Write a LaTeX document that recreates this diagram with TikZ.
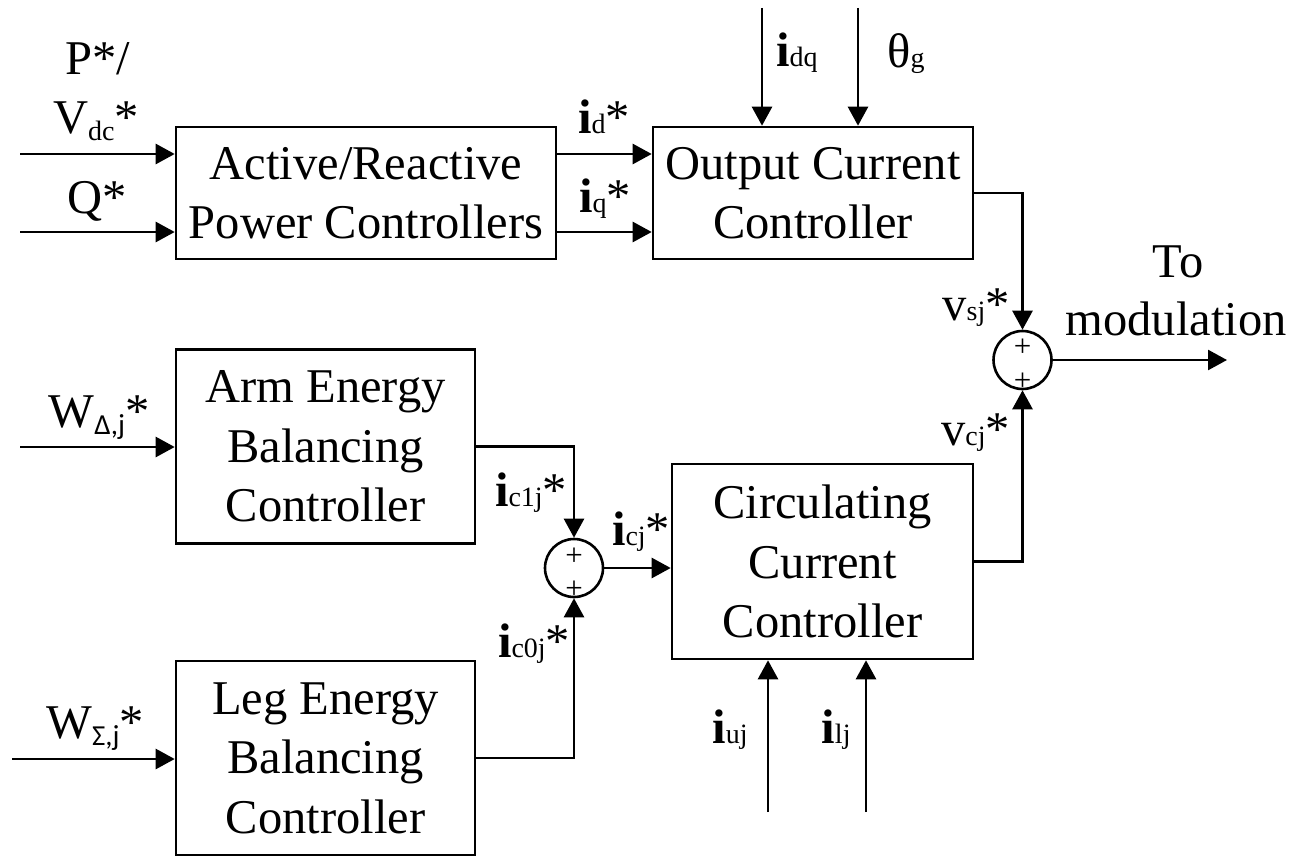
\documentclass[tikz,border=0pt]{standalone}
\usepackage{fontspec}
\setmainfont{Liberation Serif}
\newfontfamily\sansgreek{Carlito}
\usetikzlibrary{arrows.meta}

\newcommand{\sbt}[1]{{\fontsize{28}{28}\selectfont #1}}
\newcommand{\lowsbt}[1]{\raisebox{-7pt}{\fontsize{28}{28}\selectfont #1}}
\newcommand{\grsbt}[1]{\raisebox{-7pt}{\fontsize{29}{29}\sansgreek #1}}
\newcommand{\bi}{\textbf{i}}

\begin{document}
\begin{tikzpicture}[x=1pt,y=-1pt,
  blk/.style={draw, line width=2.6pt, align=center, inner sep=0pt},
  big/.style={font=\fontsize{48.5}{59.5}\selectfont},
  lbl/.style={anchor=base, inner sep=0pt, font=\fontsize{48.5}{59.5}\selectfont},
  arr/.style={line width=2.6pt, -{Triangle[length=19pt,width=20pt]}},
  sumc/.style={draw, circle, line width=2.6pt, minimum size=58pt, inner sep=0pt},
  pl/.style={inner sep=0pt, font=\fontsize{31}{31}\selectfont}
]
\useasboundingbox (0,0) rectangle (1292,856);
\fill[white] (0,0) rectangle (1292,856);

% blocks
\node[blk,big,minimum width=380pt,minimum height=132pt] (A) at (366,193) {Active/Reactive\\Power Controllers};
\node[blk,big,minimum width=320pt,minimum height=132pt] (O) at (813,193) {Output Current\\Controller};
\node[blk,big,minimum width=299pt,minimum height=194pt] (Arm) at (325.5,446.5) {Arm Energy\\Balancing\\Controller};
\node[blk,big,minimum width=299pt,minimum height=194pt] (Leg) at (325.5,758) {Leg Energy\\Balancing\\Controller};
\node[blk,big,minimum width=301pt,minimum height=195pt] (C) at (822.5,561.5) {Circulating\\Current\\Controller};

% summing junctions
\node[sumc] (S1) at (574,568) {};
\node[sumc] (S2) at (1022.5,360) {};
\node[pl] (S1a) at (574,557) {+};
\node[pl] (S1b) at (574,590) {+};
\node[pl] (S2a) at (1022.5,348) {+};
\node[pl] (S2b) at (1022.5,382) {+};

% free ends
\coordinate (pin) at (20,154);
\coordinate (qin) at (20,232);
\coordinate (wd) at (20,447);
\coordinate (ws) at (12,759);
\coordinate (idqin) at (762,8);
\coordinate (thin) at (858,8);
\coordinate (iuin) at (768,812);
\coordinate (ilin) at (866,812);
\coordinate (outp) at (1227,360);

% connectors
\draw[arr] (pin) -- (pin -| A.west);
\draw[arr] (qin) -- (qin -| A.west);
\draw[arr] (pin -| A.east) -- (pin -| O.west);
\draw[arr] (qin -| A.east) -- (qin -| O.west);
\draw[arr] (idqin) -- (idqin |- O.north);
\draw[arr] (thin) -- (thin |- O.north);
\draw[arr] (O.east) -| (S2.north);
\draw[arr] (S2.east) -- (outp);
\draw[arr] (C.east) -| (S2.south);
\draw[arr] (wd) -- (wd -| Arm.west);
\draw[arr] (ws) -- (ws -| Leg.west);
\draw[arr] (Arm.east) -| (S1.north);
\draw[arr] (Leg.east) -| (S1.south);
\draw[arr] (S1.east) -- (S1.east -| C.west);
\draw[arr] (iuin) -- (iuin |- C.south);
\draw[arr] (ilin) -- (ilin |- C.south);

% labels
\node[lbl] (lP) at (98,75) {P*/};
\node[lbl] (lV) at (96,133) {V\lowsbt{dc}*};
\node[lbl] (lQ) at (97.5,213) {Q*};
\node[lbl] (lWd) at (99,427) {W\grsbt{Δ,j}*};
\node[lbl] (lWs) at (95,738) {W\grsbt{Σ,j}*};
\node[lbl] (lid) at (604,133) {\bi\sbt{d}*};
\node[lbl] (liq) at (605,212) {\bi\sbt{q}*};
\node[lbl] (lidq) at (797,67) {\bi\sbt{dq}};
\node[lbl] (lth) at (906,68) {θ\sbt{g}};
\node[lbl] (lTo) at (1178,277) {To};
\node[lbl] (lmod) at (1176,335) {modulation};
\node[lbl] (lvs) at (976,320) {v\sbt{sj}*};
\node[lbl] (lvc) at (975.5,445) {v\sbt{cj}*};
\node[lbl] (lc1) at (531,506) {\bi\sbt{c1j}*};
\node[lbl] (lc0) at (534,657) {\bi\sbt{c0j}*};
\node[lbl] (lcj) at (641,545) {\bi\sbt{cj}*};
\node[lbl] (liu) at (730,743) {\bi\sbt{uj}};
\node[lbl] (lil) at (836,743) {\bi\sbt{lj}};
\end{tikzpicture}
\end{document}
